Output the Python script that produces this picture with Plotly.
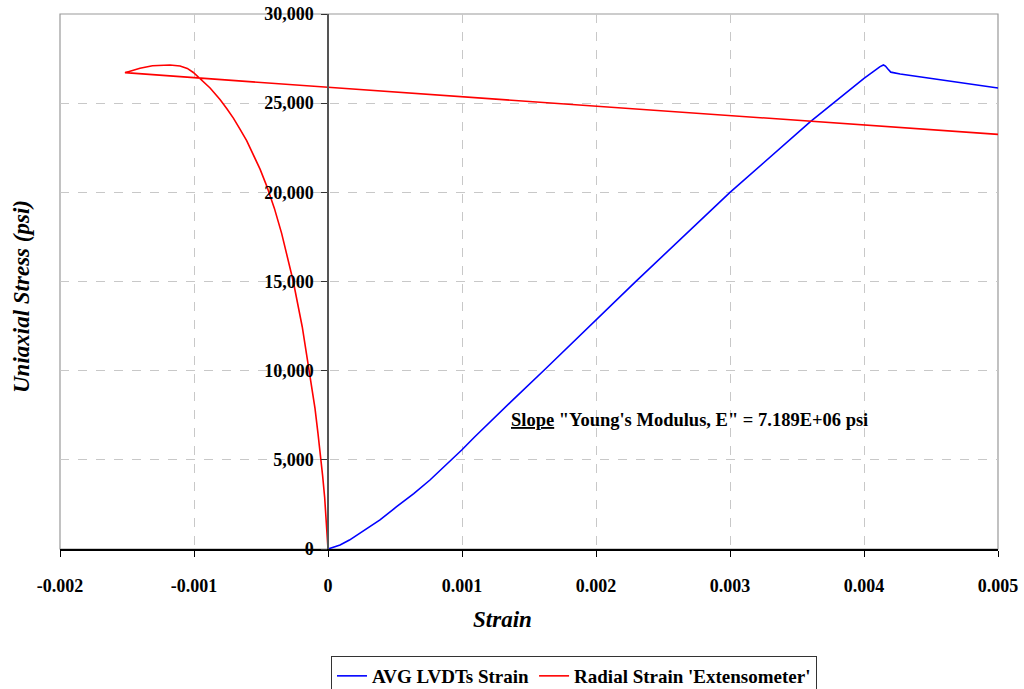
import plotly.graph_objects as go

# Axial (AVG LVDTs) strain vs stress
axial_strain = [0.0, 0.00003, 0.00009, 0.00016, 0.000239, 0.00031, 0.000388, 0.000512,
                0.00064, 0.000761, 0.00088, 0.000998, 0.00109, 0.001184, 0.00128,
                0.00138, 0.00162, 0.002005, 0.00229, 0.0030, 0.0036, 0.0040,
                0.00408, 0.00412, 0.004145, 0.00416, 0.00418, 0.00420, 0.00427, 0.005]
axial_stress = [0, 60, 220, 500, 880, 1230, 1630, 2370,
                3100, 3870, 4700, 5550, 6250, 6950, 7620,
                8360, 10080, 12860, 14950, 20000, 23960, 26390,
                26850, 27050, 27140, 27080, 26900, 26740, 26640, 25850]

# Radial strain (extensometer) vs stress
radial_strain = [0.0, -0.00001, -0.000025, -0.00004, -0.000052, -0.000075, -0.000097,
                 -0.00014, -0.000192, -0.000259, -0.0003, -0.000346, -0.0004, -0.000457,
                 -0.000507, -0.000557, -0.000607, -0.000657, -0.000705, -0.000756,
                 -0.000806, -0.00088, -0.000955, -0.001005, -0.00105, -0.001104,
                 -0.00118, -0.001241, -0.00131, -0.001403, -0.00146, -0.001515, 0.0, 0.005]
radial_stress = [0, 1300, 2900, 4100, 5000, 6500, 7890,
                 10000, 12450, 15000, 16300, 17700, 19100, 20350,
                 21300, 22150, 22900, 23550, 24150, 24700,
                 25200, 25850, 26400, 26720, 26950, 27080,
                 27140, 27140, 27100, 26960, 26850, 26710, 25890, 23250]

x_ticks = [-0.002, -0.001, 0, 0.001, 0.002, 0.003, 0.004, 0.005]
x_labels = ["-0.002", "-0.001", "0", "0.001", "0.002", "0.003", "0.004", "0.005"]
y_ticks = [0, 5000, 10000, 15000, 20000, 25000, 30000]
y_labels = ["0", "5,000", "10,000", "15,000", "20,000", "25,000", "30,000"]

FONT = "Palatino Linotype, Book Antiqua, Palatino, Liberation Serif, serif"

# plot area at x 60..998, y 14..549 of the 1024x689 window (body margin removed)
W, H = 1024, 689
L, T, R = 60, 14, 1024 - 998
PW, PH = 938, 535
B = H - T - PH

fig = go.Figure()
fig.add_trace(go.Scatter(x=axial_strain, y=axial_stress, mode="lines",
                         name="AVG LVDTs Strain",
                         line=dict(color="#0000ff", width=1.6)))
fig.add_trace(go.Scatter(x=radial_strain, y=radial_stress, mode="lines",
                         name="Radial Strain 'Extensometer'",
                         line=dict(color="#ff0000", width=1.6)))

xmin, xmax = -0.002, 0.005
fig.update_layout(
    width=W, height=H,
    margin=dict(l=L, r=R, t=T, b=B, autoexpand=False),
    paper_bgcolor="white", plot_bgcolor="white",
    font=dict(family=FONT, size=18, color="black"),
    showlegend=True,
    legend=dict(orientation="h", x=(331 - 60) / PW, y=-(656 - 549) / PH,
                xanchor="left", yanchor="top",
                bordercolor="#333333", borderwidth=1, bgcolor="white",
                font=dict(family=FONT, size=19, color="black", weight="bold"),
                itemwidth=30, tracegroupgap=0),
    xaxis=dict(range=[xmin, xmax], tickvals=x_ticks, ticktext=x_labels,
               showgrid=True, gridcolor="#c8c8c8", griddash="dash", gridwidth=1,
               zeroline=False, showline=True, linecolor="black", linewidth=1.5,
               ticks="outside", ticklen=6, tickcolor="black",
               tickfont=dict(family=FONT, size=18, weight="bold"),
               ticklabelstandoff=14, ticklabeloverflow="allow",
               automargin=False, fixedrange=True),
    yaxis=dict(range=[0, 30000], tickvals=y_ticks, ticktext=y_labels,
               anchor="free", position=(0 - xmin) / (xmax - xmin),
               showgrid=True, gridcolor="#c8c8c8", griddash="dash", gridwidth=1,
               zeroline=False, showline=True, linecolor="#555555", linewidth=1.5,
               ticks="outside", ticklen=6, tickcolor="#333333",
               tickfont=dict(family=FONT, size=18, weight="bold"),
               ticklabelstandoff=4, ticklabeloverflow="allow",
               automargin=False, fixedrange=True),
    shapes=[dict(type="rect", xref="paper", yref="paper", x0=0, x1=1, y0=0, y1=1,
                 line=dict(color="#999999", width=1.2), layer="below")],
    annotations=[
        dict(text="<b><i>Strain</i></b>", xref="paper", yref="paper",
             x=(502 - 60) / PW, y=-(619 - 549) / PH, showarrow=False,
             xanchor="center", yanchor="middle",
             font=dict(family=FONT, size=23, color="black")),
        dict(text="<b><i>Uniaxial Stress (psi)</i></b>", xref="paper", yref="paper",
             x=-(60 - 21) / PW, y=(549 - 297) / PH, showarrow=False, textangle=-90,
             xanchor="center", yanchor="middle",
             font=dict(family=FONT, size=23, color="black")),
        dict(text="<b><u>Slope</u> \"Young's Modulus, E\" = 7.189E+06 psi</b>",
             x=0.00135, y=7230, xref="x", yref="y", showarrow=False,
             xanchor="left", yanchor="middle",
             font=dict(family=FONT, size=18.5, color="black")),
    ],
)

fig.write_html("out.html",
               config={"displayModeBar": False},
               post_script="document.body.style.margin='0';document.body.style.overflow='hidden';")
